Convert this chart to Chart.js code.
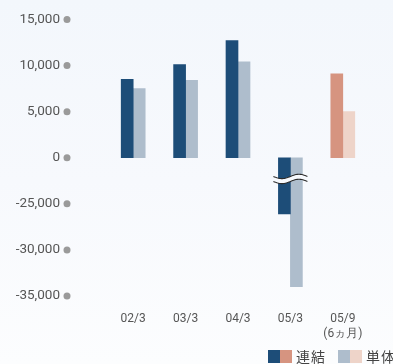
<!DOCTYPE html>
<html>
<head>
<meta charset="utf-8">
<script src="https://cdn.jsdelivr.net/npm/chart.js@4"></script>
<style>
  html, body { margin: 0; padding: 0; }
  body {
    width: 393px; height: 364px; overflow: hidden; position: relative;
    background: linear-gradient(to bottom, #f3f7fc 0%, #f7f9fd 50%, #fcfdfe 100%);
    font-family: Roboto, "Noto Sans", sans-serif;
  }
  #wrap { position: absolute; left: 0; top: 0; width: 393px; height: 364px; }
  .legend {
    position: absolute; top: 349px; left: 268px; display: flex; align-items: center;
    white-space: nowrap; width: 130px;
    font-family: "Noto Sans CJK JP", sans-serif; font-size: 14px; color: #444;
    letter-spacing: 1px; line-height: 14px;
  }
  .legend .sw { width: 12px; height: 13px; display: inline-block; flex: none; }
  .legend .txt { margin-left: 4px; margin-right: 12px; }
</style>
</head>
<body>
<div id="wrap"><canvas id="chart" width="393" height="364"></canvas></div>
<div class="legend">
  <span class="sw" style="background:#1d4d78"></span><span class="sw" style="background:#d69480"></span><span class="txt">連結</span>
  <span class="sw" style="background:#aebdcc"></span><span class="sw" style="background:#eed4c9"></span><span class="txt">単体</span>
</div>
<script>
// fiscal periods and results (百万円)
const categories = [['02/3'], ['03/3'], ['04/3'], ['05/3'], ['05/9', '(6ヵ月)']];
const consolidated = [8500, 10100, 12700, -26100, 9100];
const standalone = [7500, 8400, 10400, -34000, 5000];
const yTicks = [15000, 10000, 5000, 0, -25000, -30000, -35000];

// the axis skips 0 .. -20,000, so negatives are shifted up by that much
const skipped = 20000;
const toAxis = v => (v < 0 ? v + skipped : v);

const consColors = ['#1d4d78', '#1d4d78', '#1d4d78', '#1d4d78', '#d69480'];
const soloColors = ['#aebdcc', '#aebdcc', '#aebdcc', '#aebdcc', '#eed4c9'];

const yLabels = {
  id: 'yLabels',
  afterDraw(chart) {
    const { ctx, scales: { y } } = chart;
    ctx.save();
    ctx.font = '13.5px Roboto';
    ctx.textAlign = 'right';
    ctx.textBaseline = 'middle';
    yTicks.forEach(v => {
      const py = y.getPixelForValue(toAxis(v));
      ctx.fillStyle = '#555';
      ctx.fillText(v.toLocaleString('en-US'), 60, py);
      ctx.fillStyle = '#9a9a9a';
      ctx.beginPath();
      ctx.arc(67, py, 3.5, 0, Math.PI * 2);
      ctx.fill();
    });
    ctx.restore();
  }
};

// wavy break marks across the bars that cross the gap
const axisBreak = {
  id: 'axisBreak',
  afterDatasetsDraw(chart) {
    const { ctx, scales: { y } } = chart;
    const idx = consolidated.findIndex(v => v < -skipped);
    if (idx < 0) return;
    const a = chart.getDatasetMeta(0).data[idx];
    const b = chart.getDatasetMeta(1).data[idx];
    const x0 = a.x - a.width / 2 - 5;
    const x1 = b.x + b.width / 2 + 5;
    const cy = y.getPixelForValue(-2300);
    const wave = (off) => {
      const pts = [];
      for (let i = 0; i <= 30; i++) {
        const t = i / 30;
        pts.push([x0 + (x1 - x0) * t, cy + off + 2.2 * Math.sin(Math.PI * 2 * t)]);
      }
      return pts;
    };
    const top = wave(-2.5), bot = wave(2.5);
    ctx.save();
    ctx.beginPath();
    top.forEach(([px, py], i) => (i ? ctx.lineTo(px, py) : ctx.moveTo(px, py)));
    bot.slice().reverse().forEach(([px, py]) => ctx.lineTo(px, py));
    ctx.closePath();
    ctx.fillStyle = '#f7f9fd';
    ctx.fill();
    ctx.strokeStyle = '#2b2b2b';
    ctx.lineWidth = 1.1;
    [top, bot].forEach(line => {
      ctx.beginPath();
      line.forEach(([px, py], i) => (i ? ctx.lineTo(px, py) : ctx.moveTo(px, py)));
      ctx.stroke();
    });
    ctx.restore();
  }
};

new Chart(document.getElementById('chart'), {
  type: 'bar',
  data: {
    labels: categories,
    datasets: [
      { label: '連結', data: consolidated.map(toAxis), backgroundColor: consColors, barThickness: 12 },
      { label: '単体', data: standalone.map(toAxis), backgroundColor: soloColors, barThickness: 12 }
    ]
  },
  options: {
    responsive: false,
    animation: false,
    layout: { padding: { left: 107, right: 24, top: 19.5, bottom: 18 } },
    plugins: { legend: { display: false }, tooltip: { enabled: false } },
    scales: {
      x: {
        offset: true,
        grid: { display: false, drawTicks: false },
        border: { display: false },
        ticks: { color: '#555', font: { family: 'Roboto', size: 12 }, padding: 16, maxRotation: 0 },
        afterFit(scale) { scale.height = 50; }
      },
      y: { display: false, min: -15000, max: 15000 }
    }
  },
  plugins: [yLabels, axisBreak]
});
</script>
</body>
</html>
